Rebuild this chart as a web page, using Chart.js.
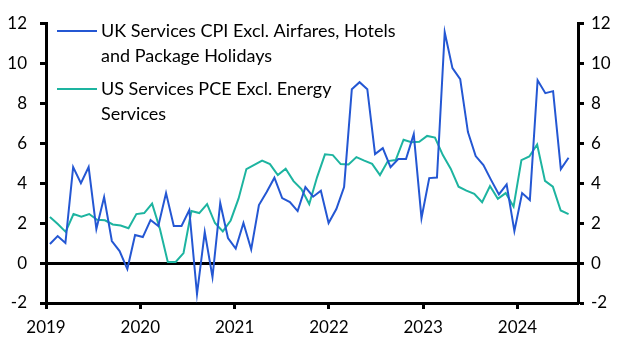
<!DOCTYPE html>
<html>
<head>
<meta charset="utf-8">
<script src="https://cdn.jsdelivr.net/npm/chart.js@4.4.1/dist/chart.umd.min.js"></script>
<style>
  html, body { margin: 0; padding: 0; background: #fff; }
  #wrap { width: 627px; height: 353px; }
</style>
</head>
<body>
<div id="wrap"><canvas id="servicesChart" width="627" height="353"></canvas></div>
<script>
const yearLabels = ["2019", "2020", "2021", "2022", "2023", "2024"];

const ukLabel = ["UK Services CPI Excl. Airfares, Hotels", "and Package Holidays"];
const usLabel = ["US Services PCE Excl. Energy", "Services"];

// UK, monthly, Jan 2019 - Aug 2024
const ukValues = [
  0.95, 1.35, 1.0, 4.8, 4.0, 4.8, 1.7, 3.3, 1.1, 0.6, -0.3, 1.4,
  1.3, 2.15, 1.85, 3.5, 1.85, 1.85, 2.65, -1.55, 1.55, -0.7, 3.0, 1.25,
  0.72, 2.0, 0.68, 2.9, 3.55, 4.27, 3.25, 3.05, 2.6, 3.8, 3.32, 3.62,
  2.0, 2.7, 3.8, 8.7, 9.05, 8.7, 5.45, 5.75, 4.8, 5.2, 5.2, 6.45,
  2.25, 4.25, 4.28, 11.55, 9.75, 9.2, 6.55, 5.35, 4.9, 4.15, 3.43, 3.93,
  1.6, 3.5, 3.15, 9.15, 8.5, 8.6, 4.7, 5.27
];

// US, monthly, Jan 2019 - Jul 2024
const usValues = [
  2.3, 1.95, 1.56, 2.45, 2.32, 2.45, 2.16, 2.14, 1.93, 1.88, 1.74, 2.45,
  2.5, 2.97, 1.7, 0.05, 0.05, 0.5, 2.6, 2.5, 2.95, 2.0, 1.58, 2.13,
  3.22, 4.7, 4.91, 5.12, 4.95, 4.4, 4.72, 4.1, 3.7, 2.95, 4.3, 5.44,
  5.4, 4.95, 4.93, 5.3, 5.12, 4.96, 4.4, 5.1, 5.15, 6.17, 6.04, 6.07,
  6.36, 6.28, 5.4, 4.72, 3.82, 3.62, 3.46, 3.04, 3.85, 3.21, 3.5, 2.82,
  5.15, 5.33, 5.93, 4.11, 3.82, 2.63, 2.45
];

const ukColor = "#2457d3";
const usColor = "#1db4a0";
const fontFamily = "Lato, 'Open Sans', sans-serif";

// both series are stretched over the same horizontal span (secondary axis style)
function toPoints(values, span) {
  const step = span / (values.length - 1);
  return values.map((v, i) => ({ x: i * step, y: v }));
}

const span = usValues.length - 1;

const legendPlugin = {
  id: "wrappedLegend",
  afterDraw(chart) {
    const ctx = chart.ctx;
    const items = [
      { color: ukColor, lines: ukLabel, y: 31 },
      { color: usColor, lines: usLabel, y: 89 }
    ];
    ctx.save();
    ctx.font = "18px " + fontFamily;
    ctx.textBaseline = "middle";
    ctx.fillStyle = "#000";
    items.forEach(item => {
      ctx.strokeStyle = item.color;
      ctx.lineWidth = 2;
      ctx.beginPath();
      ctx.moveTo(57, item.y);
      ctx.lineTo(97, item.y);
      ctx.stroke();
      item.lines.forEach((t, k) => {
        ctx.fillText(t, 101, item.y + k * 25);
      });
    });
    ctx.restore();
  }
};

const tickFont = { family: fontFamily, size: 17 };

new Chart(document.getElementById("servicesChart"), {
  type: "line",
  data: {
    datasets: [
      {
        label: ukLabel.join(" "),
        data: toPoints(ukValues, span),
        borderColor: ukColor,
        borderWidth: 2,
        pointRadius: 0,
        tension: 0
      },
      {
        label: usLabel.join(" "),
        data: toPoints(usValues, span),
        borderColor: usColor,
        borderWidth: 2,
        pointRadius: 0,
        tension: 0
      }
    ]
  },
  options: {
    responsive: false,
    animation: false,
    layout: { padding: { top: 13, left: 0, right: 0, bottom: 0 } },
    plugins: {
      legend: { display: false },
      tooltip: { enabled: false }
    },
    scales: {
      x: {
        type: "linear",
        min: -0.5,
        max: 67.2,
        afterBuildTicks: scale => {
          scale.ticks = yearLabels.map((_, k) => ({ value: 12 * k - 0.5 }));
        },
        afterFit: scale => { scale.height = 50; },
        ticks: {
          font: tickFont,
          color: "#000",
          padding: 8,
          maxRotation: 0,
          autoSkip: false,
          callback: (value, index) => yearLabels[index]
        },
        grid: {
          drawOnChartArea: false,
          tickLength: 6,
          tickColor: "#000",
          tickWidth: 3
        },
        border: { color: "#000", width: 3 }
      },
      y: {
        position: "left",
        min: -2,
        max: 12,
        afterFit: scale => { scale.width = 46; },
        ticks: { stepSize: 2, font: tickFont, color: "#000", padding: 13 },
        grid: {
          color: c => (c.tick && c.tick.value === 0 ? "#000" : "rgba(0,0,0,0)"),
          lineWidth: 3,
          tickLength: 6,
          tickColor: "#000",
          tickWidth: 3
        },
        border: { color: "#000", width: 3 }
      },
      y2: {
        position: "right",
        min: -2,
        max: 12,
        afterFit: scale => { scale.width = 49; },
        ticks: { stepSize: 2, font: tickFont, color: "#000", padding: 7 },
        grid: {
          drawOnChartArea: false,
          tickLength: 6,
          tickColor: "#000",
          tickWidth: 3
        },
        border: { color: "#000", width: 3 }
      }
    }
  },
  plugins: [legendPlugin]
});
</script>
</body>
</html>
